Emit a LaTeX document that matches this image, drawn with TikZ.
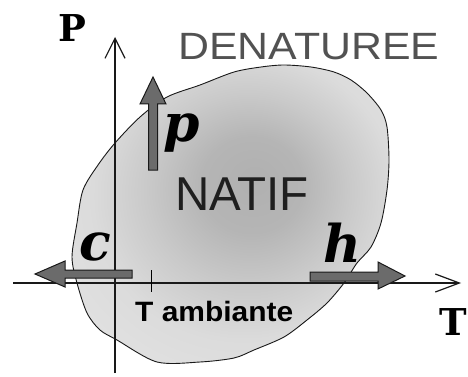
\documentclass[tikz,border=0pt]{standalone}
\usepackage{fontspec}
\setmainfont{Liberation Serif}
\setsansfont{Liberation Sans}
\newfontfamily\letterfont{DejaVu Serif}
\usetikzlibrary{arrows.meta}
\pgfdeclareradialshading{blobshade}{\pgfpoint{4bp}{6bp}}{%
  color(0bp)=(black!31); color(8bp)=(black!29); color(16bp)=(black!21);
  color(24bp)=(black!14); color(35bp)=(black!11); color(50bp)=(black!11)}
\tikzset{
  axis/.style={line width=1.2pt, draw=black!90},
  blockarrow/.style={fill=black!58, draw=black!90, line width=1pt, line join=miter},
  bigletter/.style={inner sep=0pt, font=\letterfont\fontsize{52}{52}\selectfont\bfseries\itshape},
  axislabel/.style={inner sep=0pt, font=\letterfont\fontsize{37}{37}\selectfont\bfseries},
}
\begin{document}
\begin{tikzpicture}[x=1pt,y=-1pt]
\useasboundingbox (0,0) rectangle (468,377);
\fill[white] (0,0) rectangle (468,377);
% blob
\path[shading=blobshade, draw=black!90, line width=0.9pt]
  plot[smooth cycle] coordinates {(234,72) (261,67) (284,65) (311,67) (334,72) (351,80) (367,93) (381,110) (387,127) (389,160) (387,190) (381,223) (371,247) (357,263) (344,283) (327,303) (307,320) (284,337) (254,350) (234,358) (200,362) (157,362) (117,340) (100,330) (87,313) (77,283) (72,257) (77,223) (83,190) (98,165) (115,143) (140,117) (167,97) (200,85)};
% axes
\coordinate (ybot) at (115,373);
\coordinate (ytop) at (115,37);
\coordinate (xleft) at (13,283);
\coordinate (xright) at (461,283);
\draw[axis, -{Straight Barb[length=20pt,width=20pt]}] (ybot) -- (ytop);
\draw[axis, -{Straight Barb[length=24pt,width=18pt]}] (xleft) -- (xright);
\coordinate (tick1) at (151,270);
\coordinate (tick2) at (151,292);
\draw[line width=1pt] (tick1) -- (tick2);
% block arrows
\draw[blockarrow] (148.5,170) -- (148.5,104) -- (140,104) -- (153,77) -- (166,104) -- (157.5,104) -- (157.5,170) -- cycle;
\draw[blockarrow] (132,270) -- (65,270) -- (65,261) -- (35,274) -- (65,287) -- (65,278) -- (132,278) -- cycle;
\draw[blockarrow] (310,272) -- (378,272) -- (378,262) -- (405,276) -- (378,289) -- (378,281) -- (310,281) -- cycle;
% texts
\node[inner sep=0pt, anchor=base west, text=black!68, font=\sffamily\fontsize{38}{38}\selectfont, xscale=1.128] (den) at (178,60) {DENATUREE};
\node[inner sep=0pt, anchor=base west, text=black!88, font=\sffamily\fontsize{47.5}{47.5}\selectfont] (nat) at (175,210) {NATIF};
\node[inner sep=0pt, anchor=base west, text=black, font=\sffamily\bfseries\fontsize{28}{28}\selectfont, xscale=1.07] (amb) at (135,321) {T ambiante};
\node[bigletter, anchor=base] (lp) at (182,142) {p};
\node[bigletter, anchor=base] (lc) at (95,260) {c};
\node[bigletter, anchor=base] (lh) at (342,262) {h};
\node[axislabel, anchor=base] (lP) at (72,42) {P};
\node[axislabel, anchor=base east] (lT) at (467,335) {T};
\end{tikzpicture}
\end{document}
